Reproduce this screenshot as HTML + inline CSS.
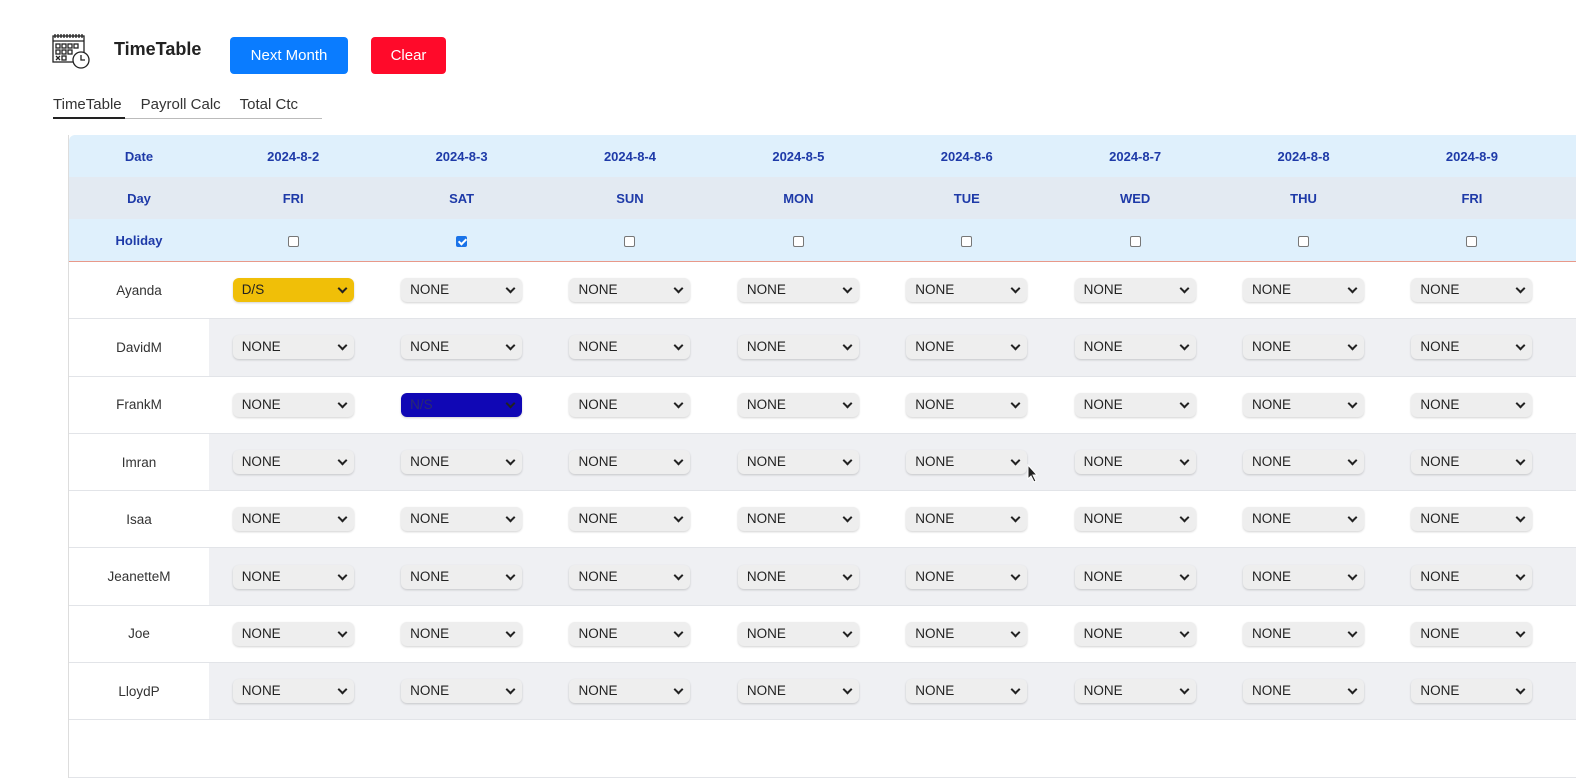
<!DOCTYPE html>
<html><head><meta charset="utf-8"><style>
*{box-sizing:border-box;margin:0;padding:0}
body{width:1576px;height:740px;overflow:hidden;background:#fff;font-family:"Liberation Sans","DejaVu Sans",sans-serif;color:#222;position:relative}
.abs{position:absolute}
.btn{position:absolute;top:37px;height:37px;border-radius:4px;color:#fff;font-size:15px;text-align:center;line-height:37px}
.tabs{position:absolute;top:96px;left:53px;font-size:15px;color:#333}
.tbl{position:absolute;left:68px;top:135px;width:1520px;border-left:1px solid #ddd}
.r{display:flex;height:42px;align-items:center}
.r div{flex:0 0 168.4px;text-align:center}
.r div:first-child{flex:0 0 140px}
.h{font-weight:bold;color:#1e3aa8;font-size:13px}
.h1{background:#dff0fc;border-radius:6px 0 0 0}
.h2{background:#e3eaf2}
.h3{background:#dff0fc;border-bottom:1px solid #e8998a;height:43px}
.d{display:flex;height:57.3px;align-items:center;border-bottom:1px solid #e2e4e8;font-size:13.5px;color:#333}
.d>div{flex:0 0 168.4px;height:100%;display:flex;align-items:center;justify-content:center}
.d>div:first-child{flex:0 0 140px;background:#fff}
.g{background:#eff0f3}
.s{width:121px;height:24px;border-radius:6px;background:#eee;box-shadow:0 1px 2px rgba(0,0,0,.18);font-size:13.5px;text-align:left;padding-left:9px;line-height:24px;position:relative;color:#222}
.s:after{content:"";position:absolute;right:8px;top:7px;width:5px;height:5px;border-right:2px solid #222;border-bottom:2px solid #222;transform:rotate(45deg)}
.y{background:#f0bf08}
.b{background:#1007b5;color:#2a2a70}
.cb{display:inline-block;width:11px;height:11px;border:1px solid #777;border-radius:2px;background:#fff;vertical-align:middle}
.cc{background:#1a73e8;border-color:#1a73e8;position:relative}
.cc:after{content:"";position:absolute;left:3px;top:0px;width:3px;height:6px;border-right:2px solid #fff;border-bottom:2px solid #fff;transform:rotate(45deg)}
</style></head><body>
<svg class="abs" style="left:52px;top:33px" width="40" height="36" viewBox="0 0 40 36" fill="none" stroke="#222" stroke-width="1.3">
<rect x="1" y="3" width="31" height="26"/><line x1="1" y1="8" x2="32" y2="8"/>
<path d="M3 1v4M6 1v4M9 1v4M12 1v4M15 1v4M18 1v4M21 1v4M24 1v4M27 1v4M30 1v4"/>
<rect x="4" y="11" width="4" height="4"/><rect x="10" y="11" width="4" height="4"/><rect x="16" y="11" width="4" height="4"/><rect x="22" y="11" width="4" height="4"/>
<rect x="4" y="17" width="4" height="4"/><rect x="10" y="17" width="4" height="4"/><rect x="16" y="17" width="4" height="4"/>
<path d="M4 23l4 4M8 23l-4 4"/><rect x="10" y="23" width="4" height="4"/>
<circle cx="29" cy="27" r="8" fill="#fff"/><path d="M29 22v5h4"/></svg>
<div class="abs" style="left:114px;top:39px;font-size:18px;font-weight:bold;color:#222">TimeTable</div>
<div class="btn" style="left:230px;width:118px;background:#0a7cff">Next Month</div>
<div class="btn" style="left:371px;width:75px;background:#ff0a2a">Clear</div>
<div class="tabs"><span>TimeTable</span><span style="margin-left:19px">Payroll Calc</span><span style="margin-left:19px">Total Ctc</span></div>
<div class="abs" style="left:53px;top:118px;width:269px;height:1px;background:#bbb"></div>
<div class="abs" style="left:53px;top:117px;width:72px;height:2px;background:#222"></div>
<div class="tbl">
<div class="r h h1"><div>Date</div><div>2024-8-2</div><div>2024-8-3</div><div>2024-8-4</div><div>2024-8-5</div><div>2024-8-6</div><div>2024-8-7</div><div>2024-8-8</div><div>2024-8-9</div></div>
<div class="r h h2"><div>Day</div><div>FRI</div><div>SAT</div><div>SUN</div><div>MON</div><div>TUE</div><div>WED</div><div>THU</div><div>FRI</div></div>
<div class="r h h3"><div>Holiday</div><div><span class="cb"></span></div><div><span class="cb cc"></span></div><div><span class="cb"></span></div><div><span class="cb"></span></div><div><span class="cb"></span></div><div><span class="cb"></span></div><div><span class="cb"></span></div><div><span class="cb"></span></div></div>
<div class="d"><div>Ayanda</div><div><div class="s y">D/S</div></div><div><div class="s">NONE</div></div><div><div class="s">NONE</div></div><div><div class="s">NONE</div></div><div><div class="s">NONE</div></div><div><div class="s">NONE</div></div><div><div class="s">NONE</div></div><div><div class="s">NONE</div></div></div>
<div class="d g"><div>DavidM</div><div><div class="s">NONE</div></div><div><div class="s">NONE</div></div><div><div class="s">NONE</div></div><div><div class="s">NONE</div></div><div><div class="s">NONE</div></div><div><div class="s">NONE</div></div><div><div class="s">NONE</div></div><div><div class="s">NONE</div></div></div>
<div class="d"><div>FrankM</div><div><div class="s">NONE</div></div><div><div class="s b">N/S</div></div><div><div class="s">NONE</div></div><div><div class="s">NONE</div></div><div><div class="s">NONE</div></div><div><div class="s">NONE</div></div><div><div class="s">NONE</div></div><div><div class="s">NONE</div></div></div>
<div class="d g"><div>Imran</div><div><div class="s">NONE</div></div><div><div class="s">NONE</div></div><div><div class="s">NONE</div></div><div><div class="s">NONE</div></div><div><div class="s">NONE</div></div><div><div class="s">NONE</div></div><div><div class="s">NONE</div></div><div><div class="s">NONE</div></div></div>
<div class="d"><div>Isaa</div><div><div class="s">NONE</div></div><div><div class="s">NONE</div></div><div><div class="s">NONE</div></div><div><div class="s">NONE</div></div><div><div class="s">NONE</div></div><div><div class="s">NONE</div></div><div><div class="s">NONE</div></div><div><div class="s">NONE</div></div></div>
<div class="d g"><div>JeanetteM</div><div><div class="s">NONE</div></div><div><div class="s">NONE</div></div><div><div class="s">NONE</div></div><div><div class="s">NONE</div></div><div><div class="s">NONE</div></div><div><div class="s">NONE</div></div><div><div class="s">NONE</div></div><div><div class="s">NONE</div></div></div>
<div class="d"><div>Joe</div><div><div class="s">NONE</div></div><div><div class="s">NONE</div></div><div><div class="s">NONE</div></div><div><div class="s">NONE</div></div><div><div class="s">NONE</div></div><div><div class="s">NONE</div></div><div><div class="s">NONE</div></div><div><div class="s">NONE</div></div></div>
<div class="d g"><div>LloydP</div><div><div class="s">NONE</div></div><div><div class="s">NONE</div></div><div><div class="s">NONE</div></div><div><div class="s">NONE</div></div><div><div class="s">NONE</div></div><div><div class="s">NONE</div></div><div><div class="s">NONE</div></div><div><div class="s">NONE</div></div></div>
<div class="d"><div></div><div></div></div>
</div>
<svg class="abs" style="left:1027px;top:464px" width="12" height="20"><path d="M1 1v14l3-3 3 6 2-1-3-6h4z" fill="#222" stroke="#fff" stroke-width="1"/></svg>
</body></html>
